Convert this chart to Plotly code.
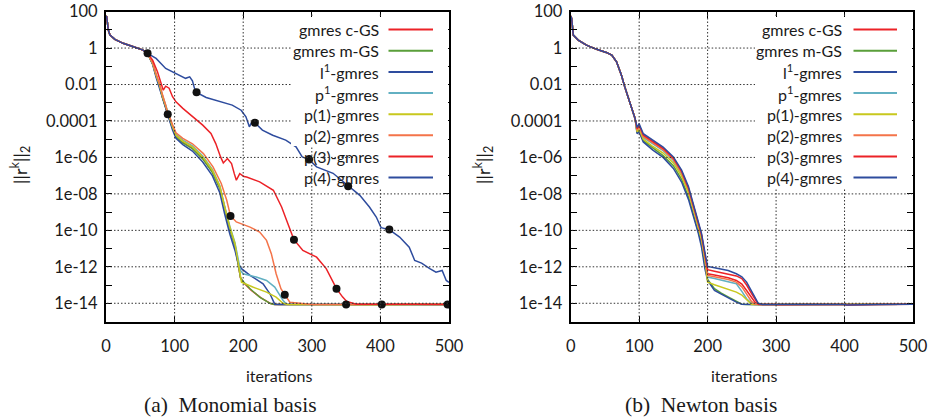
import plotly.graph_objects as go
import numpy as np

W, H = 929, 418

names = ["gmres c-GS", "gmres m-GS", "l<sup>1</sup>-gmres", "p<sup>1</sup>-gmres",
         "p(1)-gmres", "p(2)-gmres", "p(3)-gmres", "p(4)-gmres"]
colors = ["#ec2227", "#5a9f3a", "#2e4c9e", "#62b0c2", "#c8c81e", "#f4744a", "#ec2227", "#2e4c9e"]

# ---------------- (a) Monomial basis : log10 of residual ----------------
mono_head_x = [0, 1, 3.4, 5.8, 13, 25, 40, 54, 60.6]
mono_head_ly = [1.75, 1.72, 0.99, 0.71, 0.48, 0.26, 0.07, -0.11, -0.29]

mono_bx = [68, 73, 78, 82.5, 87, 92, 97, 102, 112, 126, 141, 155, 166, 173, 180.5, 188, 192.5, 196]

mono_cgs_x = mono_bx + [200, 212, 226, 240, 246, 300, 350, 400, 450, 500]
mono_cgs_ly = [-0.85, -1.51, -2.07, -2.72, -3.28, -3.83, -4.38, -4.85, -5.18, -5.5, -6.05, -6.78,
               -7.68, -8.8, -9.9, -10.8, -11.73, -12.6, -12.85, -13.3, -13.7, -14.02, -14.07,
               -14.08, -14.06, -14.08, -14.07, -14.07]

mono_mgs_x = mono_bx + [200, 210, 224, 239, 245, 300, 350, 400, 450, 500]
mono_mgs_ly = [-0.86, -1.52, -2.08, -2.74, -3.3, -3.85, -4.4, -4.87, -5.2, -5.52, -6.08, -6.82,
               -7.72, -8.85, -9.95, -10.85, -11.8, -12.6, -12.8, -13.2, -13.66, -14.0, -14.07,
               -14.07, -14.08, -14.06, -14.07, -14.07]

mono_l1_x = mono_bx + [197.5, 210, 229, 239, 246, 252, 300, 350, 400, 450, 500]
mono_l1_ly = [-0.9, -1.6, -2.2, -2.85, -3.4, -3.95, -4.5, -4.95, -5.3, -5.65, -6.25, -7.0,
              -7.95, -9.1, -10.2, -11.1, -11.8, -12.0, -12.1, -12.47, -12.93, -13.48, -14.05,
              -14.07, -14.08, -14.06, -14.08, -14.07, -14.07]

mono_p1_x = mono_bx + [200, 219, 234, 246, 258, 263, 300, 350, 400, 450, 500]
mono_p1_ly = [-0.82, -1.45, -1.98, -2.62, -3.17, -3.72, -4.27, -4.73, -5.05, -5.37, -5.92, -6.65,
              -7.55, -8.67, -9.77, -10.68, -11.6, -12.2, -12.38, -12.56, -12.75, -13.11, -13.84,
              -14.05, -14.07, -14.08, -14.06, -14.07, -14.07]

mono_pp1_x = mono_bx + [197.5, 214, 234, 248, 258, 265, 300, 350, 400, 450, 500]
mono_pp1_ly = [-0.84, -1.48, -2.03, -2.67, -3.22, -3.77, -4.32, -4.78, -5.1, -5.42, -5.97, -6.7,
               -7.6, -8.72, -9.82, -10.73, -11.65, -12.56, -12.84, -13.11, -13.39, -13.66, -14.0,
               -14.07, -14.08, -14.06, -14.08, -14.07, -14.07]

mono_pp2_x = [68, 73, 78, 82.5, 87, 90, 92, 97, 102, 112, 117, 126, 142, 156, 168, 176, 181.5, 190,
              210, 224, 234, 241, 248, 255, 260.6, 268, 300, 350, 400, 450, 500]
mono_pp2_ly = [-0.8, -1.42, -1.95, -2.58, -3.12, -3.63, -3.68, -4.2, -4.65, -4.95, -5.05, -5.25,
               -5.79, -6.52, -7.43, -8.35, -9.21, -9.54, -9.82, -10.09, -10.55, -11.28, -12.38,
               -13.2, -13.53, -13.94, -14.07, -14.06, -14.08, -14.07, -14.06]

mono_pp3_x = [68, 75, 80, 83.5, 87, 92, 97, 102, 112, 126, 141, 153, 160, 167, 171, 177, 183, 187,
              190, 195, 201, 205, 224, 244, 256, 265, 274, 287, 307, 321, 336, 345, 351, 365,
              400, 450, 500]
mono_pp3_ly = [-0.66, -1.3, -1.94, -2.31, -2.09, -2.2, -2.67, -2.95, -3.31, -3.77, -4.23, -4.69,
               -5.24, -5.97, -6.3, -6.06, -6.34, -6.89, -7.25, -6.89, -7.05, -7.07, -7.34, -7.8,
               -8.72, -9.63, -10.51, -11.1, -11.47, -12.1, -13.2, -13.66, -13.9, -14.05, -14.07,
               -14.06, -14.07]

mono_pp4_x = [73, 87, 102, 116, 122, 126, 129, 132, 146, 170, 184, 197, 204, 209, 212, 217, 228,
              243, 262, 277, 286, 296, 307, 331, 353, 370, 384, 394, 401, 413, 428, 442, 450, 460,
              472, 481, 490, 496, 500]
mono_pp4_ly = [-0.57, -1.12, -1.39, -1.66, -1.58, -1.8, -2.21, -2.43, -2.71, -2.95, -3.13, -3.41,
               -3.77, -4.32, -4.1, -4.1, -4.5, -4.78, -5.05, -5.42, -5.97, -6.12, -6.52, -6.87,
               -7.58, -8.08, -8.72, -9.27, -9.85, -9.96, -10.37, -10.92, -11.65, -11.8, -12.1,
               -12.29, -12.2, -12.75, -12.85]

restart_x = [60.6, 90, 132, 181.5, 217, 260.6, 274, 296, 336, 350, 353, 402, 413, 498]
restart_ly = [-0.29, -3.63, -2.43, -9.21, -4.1, -13.53, -10.51, -6.12, -13.2, -14.07, -7.58,
              -14.07, -9.96, -14.07]

# ---------------- (b) Newton basis : log10 of residual ----------------
newt_head_x = [0, 1.4, 3.8, 11, 23, 38, 52, 60, 67, 74, 79, 84, 89, 94]
newt_head_ly = [1.75, 1.63, 0.71, 0.44, 0.16, -0.07, -0.24, -0.38, -0.75, -1.48, -2.13, -2.67,
                -3.22, -3.86]
newt_tx = [97, 100, 106, 120, 135, 150, 162, 172, 179, 186, 191, 196, 200, 210, 220, 230, 242,
           250, 257, 264, 269, 274, 280, 300, 302, 350, 400, 403, 450, 500]

newt_cgs_ly = [-4.46, -4.26, -4.81, -5.18, -5.54, -6.08, -6.81, -7.71, -8.61, -9.51, -10.26,
               -11.35, -12.38, -12.45, -12.52, -12.6, -12.75, -12.95, -13.3, -13.7, -13.94, -14.07,
               -14.07, -14.06, -14.1, -14.07, -14.07, -14.1, -14.07, -14.06]
newt_mgs_ly = [-4.65, -4.5, -5.08, -5.5, -5.9, -6.45, -7.2, -8.15, -9.05, -9.95, -10.7, -11.9,
               -12.7, -13.2, -13.45, -13.65, -13.9, -14.05, -14.07, -14.07, -14.07, -14.07,
               -14.07, -14.06, -14.1, -14.07, -14.07, -14.1, -14.07, -14.06]
newt_l1_ly = [-4.7, -4.6, -5.15, -5.6, -6.0, -6.6, -7.35, -8.3, -9.2, -10.1, -10.9, -12.1,
              -12.75, -13.3, -13.5, -13.7, -13.94, -14.05, -14.07, -14.07, -14.07, -14.07,
              -14.07, -14.06, -14.1, -14.07, -14.07, -14.1, -14.07, -14.06]
newt_p1_ly = [-4.55, -4.35, -4.9, -5.27, -5.63, -6.17, -6.9, -7.8, -8.7, -9.6, -10.35, -11.45,
              -12.56, -12.64, -12.72, -12.8, -12.93, -13.35, -13.75, -14.0, -14.07, -14.07,
              -14.07, -14.06, -14.1, -14.07, -14.07, -14.1, -14.07, -14.06]
newt_pp1_ly = [-4.6, -4.45, -5.0, -5.4, -5.76, -6.3, -7.03, -7.93, -8.83, -9.73, -10.48, -11.6,
               -12.84, -12.98, -13.12, -13.25, -13.39, -13.55, -13.8, -14.05, -14.07, -14.07,
               -14.07, -14.06, -14.1, -14.07, -14.07, -14.1, -14.07, -14.06]
newt_pp2_ly = [-4.5, -4.3, -4.85, -5.22, -5.58, -6.12, -6.85, -7.75, -8.65, -9.55, -10.3, -11.4,
               -12.47, -12.55, -12.62, -12.7, -12.84, -13.1, -13.5, -13.9, -14.05, -14.07,
               -14.07, -14.06, -14.1, -14.07, -14.07, -14.1, -14.07, -14.06]
newt_pp3_ly = [-4.42, -4.22, -4.77, -5.14, -5.5, -6.04, -6.77, -7.67, -8.57, -9.47, -10.22, -11.3,
               -12.16, -12.24, -12.32, -12.42, -12.5, -12.65, -13.0, -13.45, -13.75, -14.05,
               -14.07, -14.06, -14.1, -14.07, -14.07, -14.1, -14.07, -14.06]
newt_pp4_ly = [-4.35, -4.15, -4.7, -5.07, -5.43, -5.97, -6.7, -7.6, -8.5, -9.4, -10.15, -11.2,
               -11.98, -12.05, -12.12, -12.2, -12.38, -12.55, -12.84, -13.3, -13.7, -14.0,
               -14.07, -14.06, -14.1, -14.07, -14.07, -14.1, -14.07, -14.06]

x_ticks = [0, 100, 200, 300, 400, 500]
y_major = [1e2, 1, 1e-2, 1e-4, 1e-6, 1e-8, 1e-10, 1e-12, 1e-14]
y_major_text = ["100", "1", "0.01", "0.0001", "1e-06", "1e-08", "1e-10", "1e-12", "1e-14"]
y_minor = [1e1, 1e-1, 1e-3, 1e-5, 1e-7, 1e-9, 1e-11, 1e-13]

mono_series = [(mono_cgs_x, mono_cgs_ly), (mono_mgs_x, mono_mgs_ly), (mono_l1_x, mono_l1_ly),
               (mono_p1_x, mono_p1_ly), (mono_pp1_x, mono_pp1_ly), (mono_pp2_x, mono_pp2_ly),
               (mono_pp3_x, mono_pp3_ly), (mono_pp4_x, mono_pp4_ly)]
newt_series = [newt_cgs_ly, newt_mgs_ly, newt_l1_ly, newt_p1_ly, newt_pp1_ly, newt_pp2_ly,
               newt_pp3_ly, newt_pp4_ly]

fig = go.Figure()
for i, (sx, sly) in enumerate(mono_series):
    xs = mono_head_x + sx
    ys = 10 ** np.array(mono_head_ly + sly)
    fig.add_trace(go.Scatter(x=xs, y=ys, mode="lines", name=names[i], showlegend=False,
                             line=dict(color=colors[i], width=1.5), xaxis="x", yaxis="y"))
fig.add_trace(go.Scatter(x=restart_x, y=10 ** np.array(restart_ly), mode="markers",
                         marker=dict(color="#111111", size=8), showlegend=False,
                         xaxis="x", yaxis="y"))
for i, sly in enumerate(newt_series):
    xs = newt_head_x + newt_tx
    ys = 10 ** np.array(newt_head_ly + sly)
    fig.add_trace(go.Scatter(x=xs, y=ys, mode="lines", name=names[i], showlegend=False,
                             line=dict(color=colors[i], width=1.5), xaxis="x2", yaxis="y2"))

FONT = "Lato"
TXT = "#1a1a1a"
X_RANGE = [0, 500]
Y_LOGRANGE = [-15, 2]
YTOP, YBOT = 11.6, 321.5
PANELS = [(106.0, 449.0), (570.7, 913.0)]
ydom = [1 - YBOT / H, 1 - YTOP / H]

common_x = dict(range=X_RANGE, tickvals=x_ticks, ticks="inside", ticklen=6, tickwidth=1,
                tickcolor="black", showline=True, linecolor="black", linewidth=2,
                mirror="allticks", showgrid=False, zeroline=False, ticklabelstandoff=9,
                automargin=False, tickfont=dict(family=FONT, size=16.5, color=TXT))
common_y = dict(type="log", range=Y_LOGRANGE, tickvals=y_major, ticktext=y_major_text,
                ticks="inside", ticklen=6, tickwidth=1, tickcolor="black", showline=True,
                linecolor="black", linewidth=2, mirror="allticks", showgrid=False,
                zeroline=False, ticklabelstandoff=3, automargin=False,
                tickfont=dict(family=FONT, size=16.5, color=TXT),
                minor=dict(tickvals=y_minor, ticks="inside", ticklen=6, tickcolor="black",
                           showgrid=False))

fig.update_layout(
    template="none",
    width=W, height=H, margin=dict(l=0, r=0, t=0, b=0, autoexpand=False),
    paper_bgcolor="white", plot_bgcolor="white", showlegend=False,
    xaxis=dict(domain=[PANELS[0][0] / W, PANELS[0][1] / W], anchor="y", **common_x),
    yaxis=dict(domain=ydom, anchor="x", **common_y),
    xaxis2=dict(domain=[PANELS[1][0] / W, PANELS[1][1] / W], anchor="y2", **common_x),
    yaxis2=dict(domain=ydom, anchor="x2", **common_y),
)

# dotted grid at the labelled ticks
GRID = dict(color="#333333", width=1, dash="1.5px,2px")
shapes = []
for (xl, xr) in PANELS:
    for t in x_ticks[1:-1]:
        px = xl + (t - X_RANGE[0]) / (X_RANGE[1] - X_RANGE[0]) * (xr - xl)
        shapes.append(dict(type="line", xref="paper", yref="paper", x0=px / W, x1=px / W,
                           y0=1 - (YBOT - 1) / H, y1=1 - (YTOP + 1) / H, line=GRID))
    for v in y_major[1:]:
        py = YBOT - (np.log10(v) - Y_LOGRANGE[0]) / (Y_LOGRANGE[1] - Y_LOGRANGE[0]) * (YBOT - YTOP)
        shapes.append(dict(type="line", xref="paper", yref="paper", x0=(xl + 1) / W,
                           x1=(xr - 1) / W, y0=1 - py / H, y1=1 - py / H, line=GRID))

annotations = []


def white_box(x0, x1, y0, y1):
    # opaque key background (pixel box) that keeps the dotted grid out of the key
    return dict(text=" ", x=(x0 + x1) / 2 / W, y=1 - (y0 + y1) / 2 / H, xref="paper",
                yref="paper", xanchor="center", yanchor="middle", showarrow=False,
                width=x1 - x0, height=y1 - y0, bgcolor="white", borderpad=0, borderwidth=0)


annotations.append(white_box(291, 447.5, 17, 146))
annotations.append(white_box(353, 447.5, 146, 189))
annotations.append(white_box(755, 911.5, 17, 189))

row_py = [29.5, 50.8, 71.9, 93.1, 114.2, 135.3, 156.4, 177.5]
for (txt_r, l0, l1) in [(381, 387, 433), (844, 852, 897)]:
    for i, nm in enumerate(names):
        yy = 1 - row_py[i] / H
        annotations.append(dict(text=nm, x=txt_r / W, y=yy, xref="paper", yref="paper",
                                xanchor="right", yanchor="middle", showarrow=False,
                                font=dict(family=FONT, size=16, color=TXT)))
        annotations.append(dict(text="", x=l1 / W, y=yy, xref="paper", yref="paper",
                                showarrow=True, arrowhead=0, arrowwidth=2,
                                arrowcolor=colors[i], ax=-(l1 - l0), ay=0,
                                standoff=0, startstandoff=0))

for cx in [20, 483]:
    annotations.append(dict(text="||r<sup>k</sup>||<sub>2</sub>", x=cx / W, y=1 - 165 / H,
                            xref="paper", yref="paper", textangle=-90, showarrow=False,
                            xanchor="center", yanchor="middle",
                            font=dict(family=FONT, size=18, color=TXT)))
for cx in [279, 744]:
    annotations.append(dict(text="iterations", x=cx / W, y=1 - 375 / H, xref="paper",
                            yref="paper", showarrow=False, xanchor="center", yanchor="middle",
                            font=dict(family=FONT, size=16, color=TXT)))
for cx, cap in [(230, "(a)  Monomial basis"), (701, "(b)  Newton basis")]:
    annotations.append(dict(text=cap, x=cx / W, y=1 - 405 / H, xref="paper", yref="paper",
                            showarrow=False, xanchor="center", yanchor="middle",
                            font=dict(family="Liberation Serif", size=21.5, color=TXT)))

fig.update_layout(shapes=shapes, annotations=annotations)
fig.write_html("out.html")
